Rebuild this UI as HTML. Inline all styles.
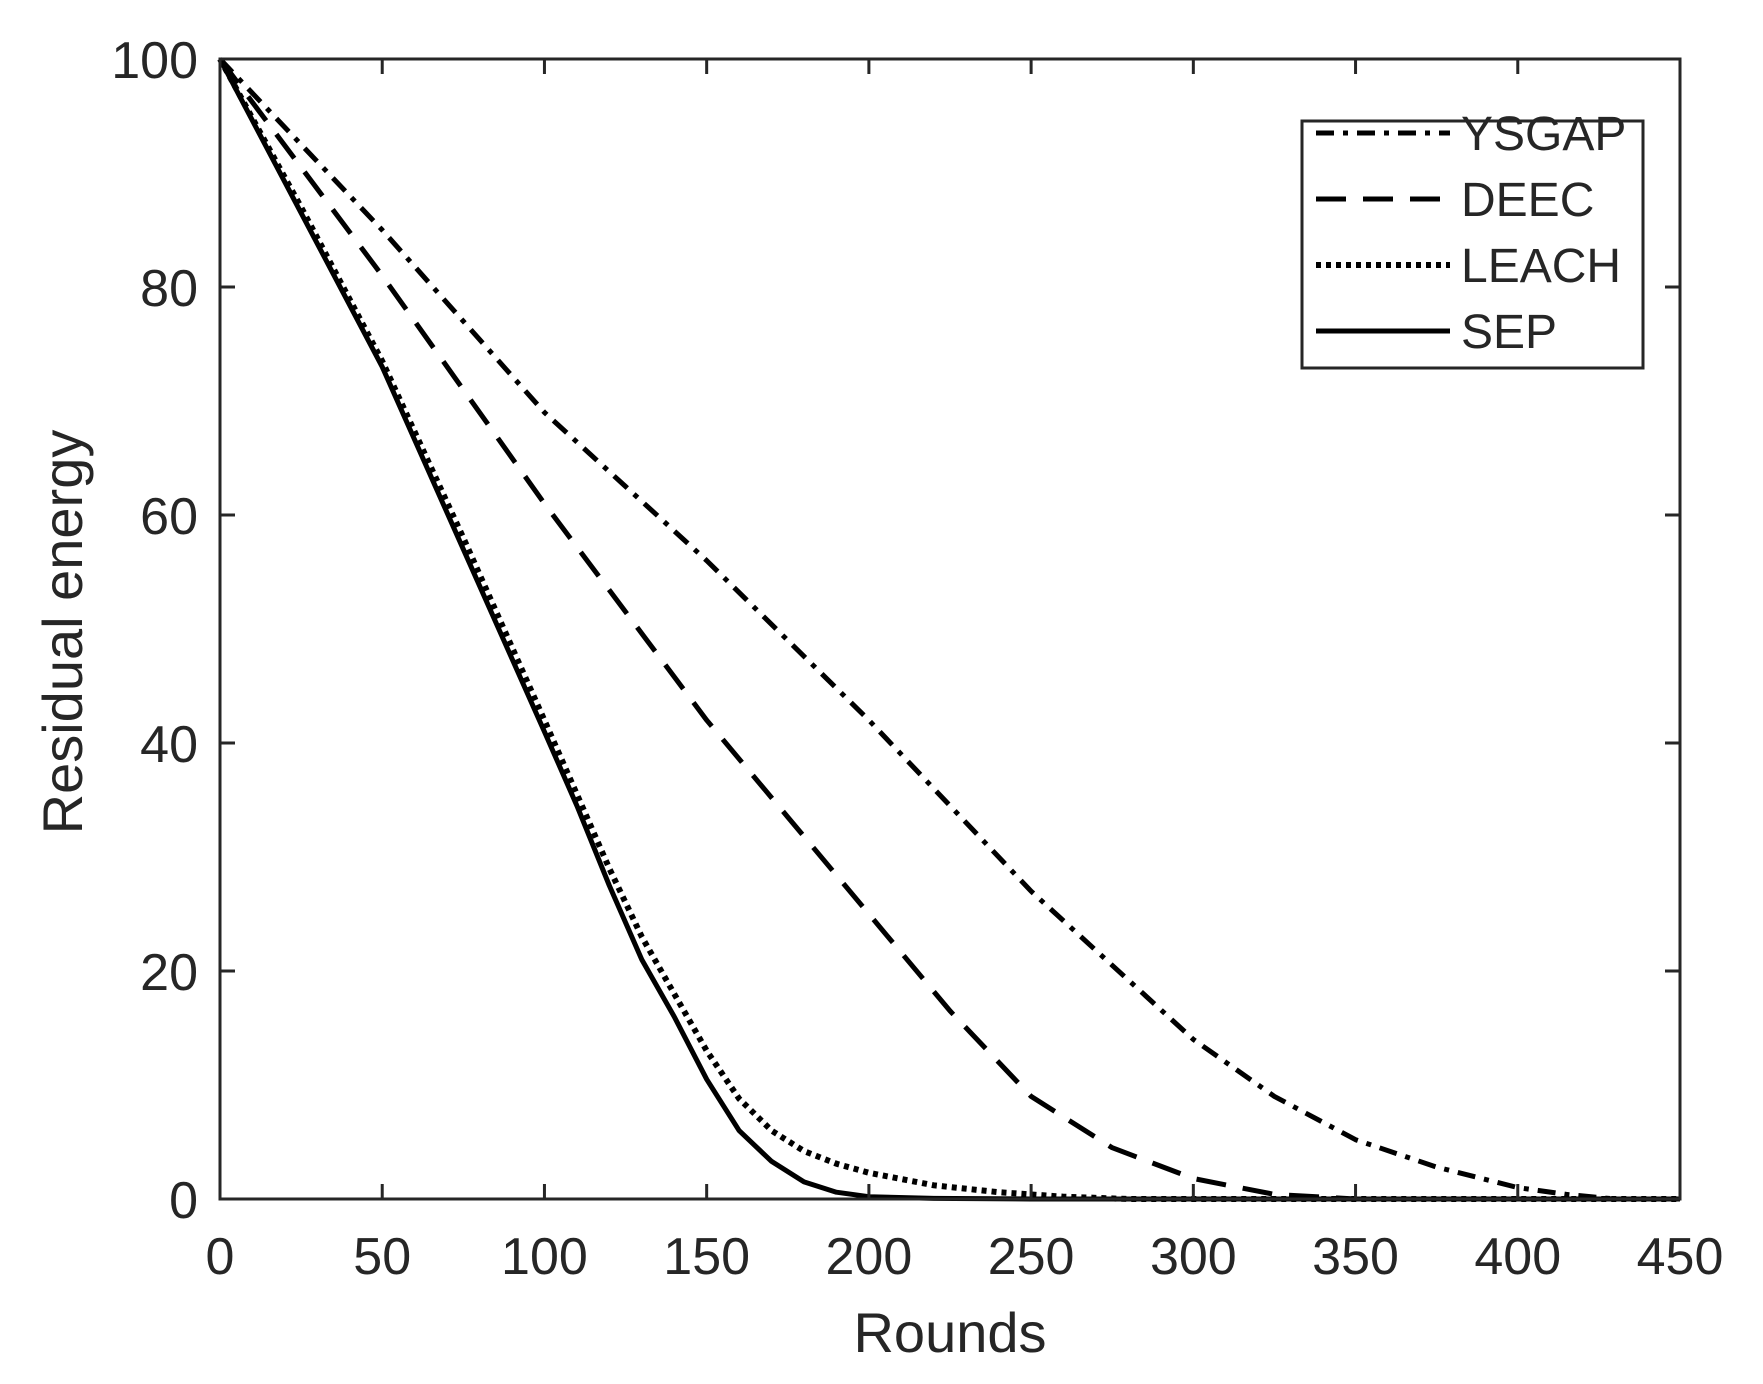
<!DOCTYPE html>
<html><head><meta charset="utf-8"><style>
body{margin:0;background:#fff}
svg{display:block}
text{font-family:"Liberation Sans",Arial,sans-serif;fill:#262626}
</style></head><body>
<svg id="chart" width="1763" height="1384" viewBox="0 0 1763 1384" xmlns="http://www.w3.org/2000/svg">
<rect width="1763" height="1384" fill="#fff"/>
<g id="series"></g>
<g id="axes"></g>
<g id="legend"></g>
</svg>
<script>
const xTicks=[0,50,100,150,200,250,300,350,400,450];
const yTicks=[0,20,40,60,80,100];
const ysgapX=[0,25,50,75,100,125,150,175,200,225,250,275,300,325,350,375,400,415,430,450];
const ysgapY=[100,92.5,85,77,69,62.5,56,49,42,34.5,27,20.5,14,9,5.2,2.8,1,0.4,0,0];
const deecX=[0,25,50,75,100,125,150,175,200,225,250,275,300,325,350,450];
const deecY=[100,90.5,81,71,61,51.5,42,33.5,25,16.5,9,4.5,1.8,0.4,0,0];
const leachX=[0,25,50,75,100,110,120,130,140,150,160,170,180,190,200,220,240,260,280,450];
const leachY=[100,87,73.5,58,42,35.5,29,23,18,13,8.8,6,4.2,3.1,2.3,1.2,0.6,0.2,0,0];
const sepX=[0,25,50,75,100,110,120,130,140,150,160,170,180,190,200,220,250,450];
const sepY=[100,86.5,73,57,41,34.5,27.5,21,16,10.5,6,3.3,1.5,0.6,0.2,0.05,0,0];
const seriesNames=["YSGAP","DEEC","LEACH","SEP"];

const L=220,R=1680,T=59,B=1199;
const sx=v=>L+(v-0)/(450-0)*(R-L);
const sy=v=>B-(v-0)/(100-0)*(B-T);
const NS="http://www.w3.org/2000/svg";
function mk(tag,attrs,parent){const e=document.createElementNS(NS,tag);for(const k in attrs)e.setAttribute(k,attrs[k]);parent.appendChild(e);return e;}
const styles=[
 {dash:"18 9 5 9",w:5},
 {dash:"30 17",w:5},
 {dash:"5 5",w:6},
 {dash:"none",w:5}
];
const data=[[ysgapX,ysgapY],[deecX,deecY],[leachX,leachY],[sepX,sepY]];
const sg=document.getElementById('series');
data.forEach((d,i)=>{
 const pts=d[0].map((x,j)=>sx(x).toFixed(1)+","+sy(d[1][j]).toFixed(1)).join(" ");
 const p=mk('polyline',{points:pts,fill:'none',stroke:'#000','stroke-width':styles[i].w,'stroke-dasharray':styles[i].dash,'stroke-linejoin':'round'},sg);
 
 
});
const ag=document.getElementById('axes');
const box=mk('rect',{x:L,y:T,width:R-L,height:B-T,fill:'none',stroke:'#262626','stroke-width':3},ag);


xTicks.forEach(v=>{
 const x=sx(v);
 mk('line',{x1:x,y1:B,x2:x,y2:B-15,stroke:'#262626','stroke-width':3},ag);
 mk('line',{x1:x,y1:T,x2:x,y2:T+15,stroke:'#262626','stroke-width':3},ag);
 const t=mk('text',{x:x,y:B+75,'text-anchor':'middle','font-size':52},ag);
 t.textContent=v;
 
 
});
yTicks.forEach(v=>{
 const y=sy(v);
 mk('line',{x1:L,y1:y,x2:L+15,y2:y,stroke:'#262626','stroke-width':3},ag);
 mk('line',{x1:R,y1:y,x2:R-15,y2:y,stroke:'#262626','stroke-width':3},ag);
 const t=mk('text',{x:198,y:y+19,'text-anchor':'end','font-size':52},ag);
 t.textContent=v;
 
 
});
const xl=mk('text',{x:(L+R)/2,y:1352,'text-anchor':'middle','font-size':56},ag);
xl.textContent="Rounds";


const yl=mk('text',{x:0,y:0,'text-anchor':'middle','font-size':56,transform:'translate(82,632) rotate(-90)'},ag);
yl.textContent="Residual energy";



const lg=document.getElementById('legend');


mk('rect',{x:1302,y:121,width:341,height:247,fill:'#fff',stroke:'#262626','stroke-width':3},lg);
const ly=[133,199,265,331];
seriesNames.forEach((n,i)=>{
 const g=mk('g',{},lg);
 
 
 mk('line',{x1:1316,y1:ly[i],x2:1450,y2:ly[i],stroke:'#000','stroke-width':styles[i].w,'stroke-dasharray':styles[i].dash},g);
 const t=mk('text',{x:1461,y:ly[i]+17,'font-size':48},g);
 t.textContent=n;
});
</script>
</body></html>
